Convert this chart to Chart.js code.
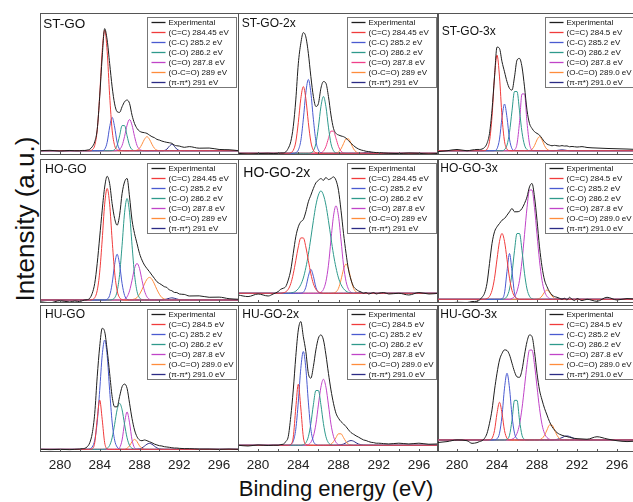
<!DOCTYPE html>
<html lang="en">

<head>
    <script src="https://cdn.jsdelivr.net/npm/chart.js"></script>
    <meta charset="UTF-8">
    <title>C1s XPS spectra</title>
    <style>
        body {
            margin: 0;
            background: #fff;
            font-family: "Liberation Sans", Arial, sans-serif;
        }

        #wrap {
            position: relative;
            width: 633px;
            height: 502px;
            overflow: hidden;
        }

        #wrap canvas {
            position: absolute;
        }

        .axisTitle {
            position: absolute;
            text-align: center;
            color: #111;
            white-space: nowrap;
        }

        #yTitle {
            width: 300px;
            height: 26px;
            left: -125px;
            top: 206px;
            font-size: 26px;
            line-height: 26px;
            transform: rotate(-90deg);
        }

        #xTitle {
            width: 400px;
            left: 136px;
            top: 478px;
            font-size: 22px;
            line-height: 22px;
        }
    </style>
</head>

<body>
    <div id="wrap">
        <div class="axisTitle" id="yTitle">Intensity (a.u.)</div>
        <div class="axisTitle" id="xTitle">Binding energy (eV)</div>
    </div>

    <script>
        // binding energy grid (eV), shared by every curve
        const energy = [278, 279, 280, 281, 281.5,
            282, 282.25, 282.5, 282.75, 283, 283.25, 283.5, 283.75,
            284, 284.25, 284.5, 284.75, 285, 285.25, 285.5, 285.75,
            286, 286.25, 286.5, 286.75, 287, 287.25, 287.5, 287.75,
            288, 288.25, 288.5, 288.75, 289, 289.25, 289.5, 289.75,
            290, 290.25, 290.5, 290.75, 291, 291.25, 291.5, 291.75,
            292, 292.5, 293, 294, 295, 296, 297, 298];
        const xTickLabels = [280, 284, 288, 292, 296];
        const xMinorTicks = [280, 282, 284, 286, 288, 290, 292, 294, 296];

        const labelsOld = ['Experimental', '(C=C) 284.45 eV', '(C-C) 285.2 eV', '(C-O) 286.2 eV', '(C=O) 287.8 eV', '(O-C=O) 289 eV', '(π-π*) 291 eV'];
        const labelsNew = ['Experimental', '(C=C) 284.5 eV', '(C-C) 285.2 eV', '(C-O) 286.2 eV', '(C=O) 287.8 eV', '(O-C=O) 289.0 eV', '(π-π*) 291.0 eV'];

        // ---- ST-GO ----
        const stGoExp = [0, 0.3, -0.2, 0.2, 0,
            0, 0.2, 0.2, 0.5, 1, 2.8, 6.3, 15,
            38, 66, 86, 78, 61.5, 45, 33, 27.5,
            27, 31, 34.5, 35.7, 33.3, 25, 19.2, 15.7,
            13.8, 13, 12.7, 12.2, 11, 9.9, 9.2, 8,
            7.5, 6.8, 6.3, 5.9, 5.6, 5.2, 4, 3.5,
            3.3, 2.4, 2.9, 1.8, 1.9, 0.9, 0.7, 0];
        const stGoCdc = [0, 0, 0, 0, 0,
            0, 0, 0, 0, 0, 0.7, 3.7, 14.5,
            39, 70, 85, 70, 39, 14.5, 3.7, 0.7,
            0, 0, 0, 0, 0, 0, 0, 0,
            0, 0, 0, 0, 0, 0, 0, 0,
            0, 0, 0, 0, 0, 0, 0, 0,
            0, 0, 0, 0, 0, 0, 0, 0];
        const stGoCsc = [0, 0, 0, 0, 0,
            0, 0, 0, 0, 0, 0, 0, 0,
            0, 0.1, 1, 5.9, 16.7, 23.5, 16.7, 5.9,
            1, 0.1, 0, 0, 0, 0, 0, 0,
            0, 0, 0, 0, 0, 0, 0, 0,
            0, 0, 0, 0, 0, 0, 0, 0,
            0, 0, 0, 0, 0, 0, 0, 0];
        const stGoCso = [0, 0, 0, 0, 0,
            0, 0, 0, 0, 0, 0, 0, 0,
            0, 0, 0, 0, 0, 0.1, 0.8, 3.8,
            10.5, 17.7, 17.7, 10.5, 3.8, 0.8, 0.1, 0,
            0, 0, 0, 0, 0, 0, 0, 0,
            0, 0, 0, 0, 0, 0, 0, 0,
            0, 0, 0, 0, 0, 0, 0, 0];
        const stGoCdo = [0, 0, 0, 0, 0,
            0, 0, 0, 0, 0, 0, 0, 0,
            0, 0, 0, 0, 0, 0, 0, 0.2,
            1, 3.7, 10.1, 18, 22, 18, 10.1, 3.7,
            1, 0.2, 0, 0, 0, 0, 0, 0,
            0, 0, 0, 0, 0, 0, 0, 0,
            0, 0, 0, 0, 0, 0, 0, 0];
        const stGoOcdo = [0, 0, 0, 0, 0,
            0, 0, 0, 0, 0, 0, 0, 0,
            0, 0, 0, 0, 0, 0, 0, 0,
            0, 0, 0, 0, 0, 0, 0, 0.4,
            1.7, 4.6, 8.1, 9.9, 8.1, 4.6, 1.7, 0.4,
            0, 0, 0, 0, 0, 0, 0, 0,
            0, 0, 0, 0, 0, 0, 0, 0];
        const stGoPi = [0, 0, 0, 0, 0,
            0, 0, 0, 0, 0, 0, 0, 0,
            0, 0, 0, 0, 0, 0, 0, 0,
            0, 0, 0, 0, 0, 0, 0, 0,
            0, 0, 0, 0, 0, 0, 0, 0,
            0, 0, 0.2, 1.1, 3.2, 4.5, 3.2, 1.1,
            0.2, 0, 0, 0, 0, 0, 0, 0];

        // ---- ST-GO-2x ----
        const st2Exp = [0, -0.5, -0.2, 0, -0.2,
            0, 0.2, 0.2, 1, 3.5, 8.2, 18.8, 37.6,
            63, 77.5, 85, 82, 70.4, 54, 40, 33,
            35, 45.8, 50.5, 49.3, 40, 27, 17.6, 14,
            12.9, 12.2, 11.7, 10.6, 8.9, 7, 5.4, 4,
            3, 2.3, 1.9, 1.4, 1.2, 0.9, 0.7, 0.5,
            0.5, 0.2, 0, -0.2, 0.2, 0, -0.5, 0];
        const st2Cdc = [0, 0, 0, 0, 0,
            0, 0, 0, 0, 0, 0.4, 2.1, 8,
            21.6, 38.5, 47, 38.5, 21.6, 8, 2.1, 0.4,
            0, 0, 0, 0, 0, 0, 0, 0,
            0, 0, 0, 0, 0, 0, 0, 0,
            0, 0, 0, 0, 0, 0, 0, 0,
            0, 0, 0, 0, 0, 0, 0, 0];
        const st2Csc = [0, 0, 0, 0, 0,
            0, 0, 0, 0, 0, 0, 0, 0.4,
            2.3, 8.8, 24, 42.6, 52, 42.6, 24, 8.8,
            2.3, 0.4, 0, 0, 0, 0, 0, 0,
            0, 0, 0, 0, 0, 0, 0, 0,
            0, 0, 0, 0, 0, 0, 0, 0,
            0, 0, 0, 0, 0, 0, 0, 0];
        const st2Cso = [0, 0, 0, 0, 0,
            0, 0, 0, 0, 0, 0, 0, 0,
            0, 0, 0, 0, 0, 0.3, 1.8, 6.8,
            18.4, 32.8, 40, 32.8, 18.4, 6.8, 1.8, 0.3,
            0, 0, 0, 0, 0, 0, 0, 0,
            0, 0, 0, 0, 0, 0, 0, 0,
            0, 0, 0, 0, 0, 0, 0, 0];
        const st2Cdo = [0, 0, 0, 0, 0,
            0, 0, 0, 0, 0, 0, 0, 0,
            0, 0, 0, 0, 0, 0, 0, 0,
            0, 0.3, 1.5, 4.8, 10.5, 15.6, 15.6, 10.5,
            4.8, 1.5, 0.3, 0, 0, 0, 0, 0,
            0, 0, 0, 0, 0, 0, 0, 0,
            0, 0, 0, 0, 0, 0, 0, 0];
        const st2Ocdo = [0, 0, 0, 0, 0,
            0, 0, 0, 0, 0, 0, 0, 0,
            0, 0, 0, 0, 0, 0, 0, 0,
            0, 0, 0, 0, 0, 0, 0, 0.2,
            1, 3.1, 6.8, 10.1, 10.1, 6.8, 3.1, 1,
            0.2, 0, 0, 0, 0, 0, 0, 0,
            0, 0, 0, 0, 0, 0, 0, 0];
        const st2Pi = [0, 0, 0, 0, 0,
            0, 0, 0, 0, 0, 0, 0, 0,
            0, 0, 0, 0, 0, 0, 0, 0,
            0, 0, 0, 0, 0, 0, 0, 0,
            0, 0, 0, 0, 0, 0, 0, 0,
            0, 0, 0.4, 0.65, 0.8, 0.65, 0.4, 0,
            0, 0, 0, 0, 0, 0, 0, 0];

        // ---- ST-GO-3x ----
        const st3Exp = [-0.7, 0, 0.9, 0, 0.5,
            0.9, 0.9, 1.2, 2.3, 5.2, 12.2, 28.6, 52,
            73, 72, 62.7, 55.6, 48.6, 43.9, 42.7, 52,
            63.8, 65, 59, 45, 28.6, 19.2, 15.7, 13.4,
            12.2, 11, 8.7, 6.3, 4.7, 4, 3.5, 3.8,
            3.5, 3.3, 3.6, 3.3, 3.4, 2.8, 3, 2.8,
            2.6, 2.9, 2.3, 1.9, 1.6, 1.4, 1.2, 0.9];
        const st3Cdc = [0, 0, 0, 0, 0,
            0, 0, 0, 0.1, 1.1, 6.7, 24, 52,
            67.4, 52, 24, 6.7, 1.1, 0.1, 0, 0,
            0, 0, 0, 0, 0, 0, 0, 0,
            0, 0, 0, 0, 0, 0, 0, 0,
            0, 0, 0, 0, 0, 0, 0, 0,
            0, 0, 0, 0, 0, 0, 0, 0];
        const st3Csc = [0, 0, 0, 0, 0,
            0, 0, 0, 0, 0, 0, 0, 0.1,
            1.4, 8.2, 23.4, 32.9, 23.4, 8.2, 1.4, 0.1,
            0, 0, 0, 0, 0, 0, 0, 0,
            0, 0, 0, 0, 0, 0, 0, 0,
            0, 0, 0, 0, 0, 0, 0, 0,
            0, 0, 0, 0, 0, 0, 0, 0];
        const st3Cso = [0, 0, 0, 0, 0,
            0, 0, 0, 0, 0, 0, 0, 0,
            0, 0, 0, 0.8, 4, 13, 28.1, 41.7,
            41.7, 28.1, 13, 4, 0.8, 0, 0, 0,
            0, 0, 0, 0, 0, 0, 0, 0,
            0, 0, 0, 0, 0, 0, 0, 0,
            0, 0, 0, 0, 0, 0, 0, 0];
        const st3Cdo = [0, 0, 0, 0, 0,
            0, 0, 0, 0, 0, 0, 0, 0,
            0, 0, 0, 0, 0, 0, 0, 0.6,
            4.8, 20, 40, 40, 20, 4.8, 0.6, 0,
            0, 0, 0, 0, 0, 0, 0, 0,
            0, 0, 0, 0, 0, 0, 0, 0,
            0, 0, 0, 0, 0, 0, 0, 0];
        const st3Ocdo = [0, 0, 0, 0, 0,
            0, 0, 0, 0, 0, 0, 0, 0,
            0, 0, 0, 0, 0, 0, 0, 0,
            0, 0, 0, 0, 0, 0.2, 1, 3.6,
            7.7, 9.9, 7.7, 3.6, 1, 0.2, 0, 0,
            0, 0, 0, 0, 0, 0, 0, 0,
            0, 0, 0, 0, 0, 0, 0, 0];
        const st3Pi = [0, 0, 0, 0, 0,
            0, 0, 0, 0, 0, 0, 0, 0,
            0, 0, 0, 0, 0, 0, 0, 0,
            0, 0, 0, 0, 0, 0, 0, 0,
            0, 0, 0, 0, 0, 0, 0, 0,
            0.2, 0.45, 0.6, 0.45, 0.2, 0, 0, 0,
            0, 0, 0, 0, 0, 0, 0, 0];

        // ---- HO-GO ----
        const hoExp = [-1.2, -1.9, -0.5, -1.4, -0.7,
            -1.2, -0.5, 0, 0.2, 1.2, 4.7, 11.6, 25.6,
            44, 62.8, 79, 86.5, 81.4, 67.4, 57, 52.3,
            59.3, 74.4, 82.6, 85, 72, 55.8, 46.5, 39.5,
            32.6, 27.9, 24.4, 22, 19.8, 17.4, 15.1, 12.8,
            11.6, 10.5, 9.3, 8.8, 7, 6.5, 5.3, 5.2,
            4.2, 3.9, 2.8, 2.9, 1.9, 2, 0.9, 0.5];
        const hoCdc = [0, 0, 0, 0, 0,
            0, 0, 0, 0, 0, 0.3, 1.6, 6.6,
            19.5, 42, 67, 78, 67, 42, 19.5, 6.6,
            1.6, 0.3, 0, 0, 0, 0, 0, 0,
            0, 0, 0, 0, 0, 0, 0, 0,
            0, 0, 0, 0, 0, 0, 0, 0,
            0, 0, 0, 0, 0, 0, 0, 0];
        const hoCsc = [0, 0, 0, 0, 0,
            0, 0, 0, 0, 0, 0, 0, 0,
            0, 0, 0, 0.5, 3.2, 11.5, 24.8, 32,
            24.8, 11.5, 3.2, 0.5, 0, 0, 0, 0,
            0, 0, 0, 0, 0, 0, 0, 0,
            0, 0, 0, 0, 0, 0, 0, 0,
            0, 0, 0, 0, 0, 0, 0, 0];
        const hoCso = [0, 0, 0, 0, 0,
            0, 0, 0, 0, 0, 0, 0, 0,
            0, 0, 0, 0, 0, 0.3, 1.5, 6,
            17.8, 38.3, 61, 71, 61, 38.3, 17.8, 6,
            1.5, 0.3, 0, 0, 0, 0, 0, 0,
            0, 0, 0, 0, 0, 0, 0, 0,
            0, 0, 0, 0, 0, 0, 0, 0];
        const hoCdo = [0, 0, 0, 0, 0,
            0, 0, 0, 0, 0, 0, 0, 0,
            0, 0, 0, 0, 0, 0, 0, 0,
            0, 0.1, 0.5, 2.2, 6.4, 13.8, 22, 25.6,
            22, 13.8, 6.4, 2.2, 0.5, 0.1, 0, 0,
            0, 0, 0, 0, 0, 0, 0, 0,
            0, 0, 0, 0, 0, 0, 0, 0];
        const hoOcdo = [0, 0, 0, 0, 0,
            0, 0, 0, 0, 0, 0, 0, 0,
            0, 0, 0, 0, 0, 0, 0, 0,
            0, 0, 0, 0, 0, 0.2, 0.7, 1.7,
            4, 7.3, 11.2, 14.5, 15.8, 14.5, 11.2, 7.3,
            4, 1.7, 0.7, 0.2, 0, 0, 0, 0,
            0, 0, 0, 0, 0, 0, 0, 0];
        const hoPi = [0, 0, 0, 0, 0,
            0, 0, 0, 0, 0, 0, 0, 0,
            0, 0, 0, 0, 0, 0, 0, 0,
            0, 0, 0, 0, 0, 0, 0, 0,
            0, 0, 0, 0, 0, 0, 0, 0,
            0, 0, 0.25, 0.7, 1.2, 1.5, 1.2, 0.7,
            0.25, 0, 0, 0, 0, 0, 0, 0];

        // ---- HO-GO-2x ----
        const ho2Exp = [-1.2, -2.3, -0.5, -1.9, -0.5,
            1.2, 2.8, 3.5, 4.7, 9.3, 16.3, 28, 39.5,
            46.5, 50, 51.6, 57, 64, 68.6, 73.3, 77.2,
            79, 80.2, 79, 81, 79.5, 80.2, 81.4, 79,
            72, 58, 41.9, 28, 16.3, 9.3, 4.7, 2.8,
            1.6, 0.9, 0, 0.5, -0.5, 0, 0.5, -0.5,
            0, 0.5, -0.5, 0, -1.2, 0.5, -0.5, 0];
        const ho2Cdc = [0, 0, 0, 0, 0,
            0, 0, 0.3, 1, 2.8, 6.7, 13.6, 22.9,
            32.4, 38.7, 38.7, 32.4, 22.9, 13.6, 6.7, 2.8,
            1, 0.3, 0, 0, 0, 0, 0, 0,
            0, 0, 0, 0, 0, 0, 0, 0,
            0, 0, 0, 0, 0, 0, 0, 0,
            0, 0, 0, 0, 0, 0, 0, 0];
        const ho2Csc = [0, 0, 0, 0, 0,
            0, 0, 0, 0, 0, 0, 0, 0,
            0, 0.1, 0.7, 4.2, 11.9, 16.7, 11.9, 4.2,
            0.7, 0.1, 0, 0, 0, 0, 0, 0,
            0, 0, 0, 0, 0, 0, 0, 0,
            0, 0, 0, 0, 0, 0, 0, 0,
            0, 0, 0, 0, 0, 0, 0, 0];
        const ho2Cso = [0, 0, 0, 0, 0,
            0, 0, 0, 0, 0, 0.2, 0.6, 1.5,
            3.2, 6.1, 10.7, 17.9, 27.2, 38.7, 50.8, 61.6,
            68.7, 71.6, 68.7, 61.6, 50.8, 38.7, 27.2, 17.9,
            10.7, 6.1, 3.2, 1.5, 0.6, 0.2, 0, 0,
            0, 0, 0, 0, 0, 0, 0, 0,
            0, 0, 0, 0, 0, 0, 0, 0];
        const ho2Cdo = [0, 0, 0, 0, 0,
            0, 0, 0, 0, 0, 0, 0, 0,
            0, 0, 0, 0, 0, 0, 0, 0,
            0, 0.7, 2.7, 8.3, 19.6, 37.3, 53.9, 61.2,
            53.9, 37.3, 19.6, 8.3, 2.7, 0.7, 0, 0,
            0, 0, 0, 0, 0, 0, 0, 0,
            0, 0, 0, 0, 0, 0, 0, 0];
        const ho2Ocdo = [0, 0, 0, 0, 0,
            0, 0, 0, 0, 0, 0, 0, 0,
            0, 0, 0, 0, 0, 0, 0, 0,
            0, 0, 0, 0, 0, 0, 0.2, 0.9,
            3.5, 9.4, 16.8, 20.5, 16.8, 9.4, 3.5, 0.9,
            0.2, 0, 0, 0, 0, 0, 0, 0,
            0, 0, 0, 0, 0, 0, 0, 0];
        const ho2Pi = [0, 0, 0, 0, 0,
            0, 0, 0, 0, 0, 0, 0, 0,
            0, 0, 0, 0, 0, 0, 0, 0,
            0, 0, 0, 0, 0, 0, 0, 0,
            0, 0, 0, 0, 0, 0, 0, 0.3,
            0.5, 0.3, 0, 0, 0, 0, 0, 0,
            0, 0, 0, 0, 0, 0, 0, 0];

        // ---- HO-GO-3x ----
        const ho3Exp = [-2.3, -2.8, -2.1, -2.3, -1.6,
            -1.4, -0.5, 1.4, 4.2, 11.2, 25, 39, 47.2,
            50.7, 53, 55.3, 56.5, 58.8, 61.2, 63.5, 61.2,
            61.2, 61.6, 63.5, 67, 71.6, 78.6, 81, 71.6,
            55.3, 36.7, 22.8, 13.5, 8.8, 5.3, 3, 1.9,
            1.4, 0.7, 0, 0.7, -0.5, 1.4, 0, -0.9,
            0.5, -0.9, 0, -1.4, 1.4, -0.5, 0.5, 0];
        const ho3Cdc = [0, 0, 0, 0, 0,
            0, 0, 0, 0, 0.5, 2, 6.2, 14.7,
            28, 40.5, 46, 40.5, 28, 14.7, 6.2, 2,
            0.5, 0, 0, 0, 0, 0, 0, 0,
            0, 0, 0, 0, 0, 0, 0, 0,
            0, 0, 0, 0, 0, 0, 0, 0,
            0, 0, 0, 0, 0, 0, 0, 0];
        const ho3Csc = [0, 0, 0, 0, 0,
            0, 0, 0, 0, 0, 0, 0, 0,
            0, 0, 0.4, 4.3, 19.5, 32, 19.5, 4.3,
            0.4, 0, 0, 0, 0, 0, 0, 0,
            0, 0, 0, 0, 0, 0, 0, 0,
            0, 0, 0, 0, 0, 0, 0, 0,
            0, 0, 0, 0, 0, 0, 0, 0];
        const ho3Cso = [0, 0, 0, 0, 0,
            0, 0, 0, 0, 0, 0, 0, 0,
            0, 0, 0, 0.4, 2.1, 7.2, 18.2, 34,
            46, 46, 34, 18.2, 7.2, 2.1, 0.4, 0,
            0, 0, 0, 0, 0, 0, 0, 0,
            0, 0, 0, 0, 0, 0, 0, 0,
            0, 0, 0, 0, 0, 0, 0, 0];
        const ho3Cdo = [0, 0, 0, 0, 0,
            0, 0, 0, 0, 0, 0, 0, 0,
            0, 0, 0, 0, 0, 0, 0.6, 2,
            5.6, 13.3, 26.9, 45.2, 64, 76.4, 76.4, 64,
            45.2, 26.9, 13.3, 5.6, 2, 0.6, 0, 0,
            0, 0, 0, 0, 0, 0, 0, 0,
            0, 0, 0, 0, 0, 0, 0, 0];
        const ho3Ocdo = [0, 0, 0, 0, 0,
            0, 0, 0, 0, 0, 0, 0, 0,
            0, 0, 0, 0, 0, 0, 0, 0,
            0, 0, 0, 0, 0, 0, 0, 0,
            0.1, 0.65, 2.3, 5, 6.5, 5, 2.3, 0.65,
            0.1, 0, 0, 0, 0, 0, 0, 0,
            0, 0, 0, 0, 0, 0, 0, 0];
        const ho3Pi = [0, 0, 0, 0, 0,
            0, 0, 0, 0, 0, 0, 0, 0,
            0, 0, 0, 0, 0, 0, 0, 0,
            0, 0, 0, 0, 0, 0, 0, 0,
            0, 0, 0, 0, 0, 0, 0, 0,
            0.2, 0.4, 0.5, 0.4, 0.2, 0, 0, 0,
            0, 0, 0, 0, 0, 0, 0, 0];

        // ---- HU-GO ----
        const huExp = [0, -0.2, 0, -0.2, 0,
            0.2, 0.5, 0.7, 1.8, 4.5, 10.9, 24.5, 49.5,
            70, 82.5, 80.2, 67.7, 51.8, 36, 29, 29,
            36, 42.7, 44.5, 41.6, 31.4, 21, 13.2, 8.6,
            6.4, 5.9, 6.4, 5.9, 5.2, 4.5, 3.6, 3,
            2.5, 2.3, 1.8, 1.6, 1.4, 1.1, 0.9, 0.9,
            0.7, 0.5, 0.5, 0.2, 0.2, 0, 0.2, 0];
        const huCdc = [0, 0, 0, 0, 0,
            0, 0, 0, 0, 0, 0.4, 4.5, 20.5,
            33.6, 20.5, 4.5, 0.4, 0, 0, 0, 0,
            0, 0, 0, 0, 0, 0, 0, 0,
            0, 0, 0, 0, 0, 0, 0, 0,
            0, 0, 0, 0, 0, 0, 0, 0,
            0, 0, 0, 0, 0, 0, 0, 0];
        const huCsc = [0, 0, 0, 0, 0,
            0, 0, 0, 0, 0.3, 1.6, 6.3, 18.6,
            40.2, 64, 74.5, 64, 40.2, 18.6, 6.3, 1.6,
            0.3, 0, 0, 0, 0, 0, 0, 0,
            0, 0, 0, 0, 0, 0, 0, 0,
            0, 0, 0, 0, 0, 0, 0, 0,
            0, 0, 0, 0, 0, 0, 0, 0];
        const huCso = [0, 0, 0, 0, 0,
            0, 0, 0, 0, 0, 0, 0, 0,
            0, 0, 0.1, 0.7, 2.7, 7.9, 17, 27,
            31.4, 27, 17, 7.9, 2.7, 0.7, 0.1, 0,
            0, 0, 0, 0, 0, 0, 0, 0,
            0, 0, 0, 0, 0, 0, 0, 0,
            0, 0, 0, 0, 0, 0, 0, 0];
        const huCdo = [0, 0, 0, 0, 0,
            0, 0, 0, 0, 0, 0, 0, 0,
            0, 0, 0, 0, 0, 0, 0, 0.1,
            1.1, 6.4, 18.1, 25.5, 18.1, 6.4, 1.1, 0.1,
            0, 0, 0, 0, 0, 0, 0, 0,
            0, 0, 0, 0, 0, 0, 0, 0,
            0, 0, 0, 0, 0, 0, 0, 0];
        const huOcdo = [0, 0, 0, 0, 0,
            0, 0, 0, 0, 0, 0, 0, 0,
            0, 0, 0, 0, 0, 0, 0, 0,
            0, 0, 0.1, 0.7, 2.4, 5.3, 6.8, 5.3,
            2.4, 0.7, 0.1, 0, 0, 0, 0, 0,
            0, 0, 0, 0, 0, 0, 0, 0,
            0, 0, 0, 0, 0, 0, 0, 0];
        const huPi = [0, 0, 0, 0, 0,
            0, 0, 0, 0, 0, 0, 0, 0,
            0, 0, 0, 0, 0, 0, 0, 0,
            0, 0, 0, 0, 0, 0, 0, 0.1,
            0.35, 1, 2.2, 3.5, 4.1, 3.5, 2.2, 1,
            0.35, 0.1, 0, 0, 0, 0, 0, 0,
            0, 0, 0, 0, 0, 0, 0, 0];

        // ---- HU-GO-2x ----
        const hu2Exp = [0, -0.5, 0.2, -0.2, 0,
            0, 0.5, 0.7, 2.5, 5.9, 19.5, 37.7, 60.5,
            78.6, 84.3, 74, 63.9, 49, 45.7, 53.6, 65,
            73, 75.2, 71.8, 61.6, 49, 37.7, 28.6, 21.8,
            18.4, 16.1, 14.5, 12.7, 10.5, 8.6, 7.5, 6.4,
            5.5, 4.5, 3.6, 3.2, 2.5, 2, 1.8, 1.4,
            1.4, 1.1, 0.9, 1.4, 0.9, 1.4, 0.7, 0.9];
        const hu2Cdc = [0, 0, 0, 0, 0,
            0, 0, 0, 0, 0, 0.5, 5.6, 25.4,
            41.6, 25.4, 5.6, 0.5, 0, 0, 0, 0,
            0, 0, 0, 0, 0, 0, 0, 0,
            0, 0, 0, 0, 0, 0, 0, 0,
            0, 0, 0, 0, 0, 0, 0, 0,
            0, 0, 0, 0, 0, 0, 0, 0];
        const hu2Csc = [0, 0, 0, 0, 0,
            0, 0, 0, 0, 0, 0.5, 2.8, 10.9,
            29.4, 52.4, 63.9, 52.4, 29.4, 10.9, 2.8, 0.5,
            0, 0, 0, 0, 0, 0, 0, 0,
            0, 0, 0, 0, 0, 0, 0, 0,
            0, 0, 0, 0, 0, 0, 0, 0,
            0, 0, 0, 0, 0, 0, 0, 0];
        const hu2Cso = [0, 0, 0, 0, 0,
            0, 0, 0, 0, 0, 0, 0, 0,
            0, 0, 0.35, 1.7, 5.8, 14.8, 27.6, 37.3,
            37.3, 27.6, 14.8, 5.8, 1.7, 0.35, 0, 0,
            0, 0, 0, 0, 0, 0, 0, 0,
            0, 0, 0, 0, 0, 0, 0, 0,
            0, 0, 0, 0, 0, 0, 0, 0];
        const hu2Cdo = [0, 0, 0, 0, 0,
            0, 0, 0, 0, 0, 0, 0, 0,
            0, 0, 0, 0, 0.5, 2, 6.1, 14.4,
            27.5, 39.6, 45, 39.6, 27.5, 14.4, 6.1, 2,
            0.5, 0, 0, 0, 0, 0, 0, 0,
            0, 0, 0, 0, 0, 0, 0, 0,
            0, 0, 0, 0, 0, 0, 0, 0];
        const hu2Ocdo = [0, 0, 0, 0, 0,
            0, 0, 0, 0, 0, 0, 0, 0,
            0, 0, 0, 0, 0, 0, 0, 0,
            0, 0, 0, 0, 0.15, 0.7, 2.4, 5.2,
            7.8, 7.8, 5.2, 2.4, 0.7, 0.15, 0, 0,
            0, 0, 0, 0, 0, 0, 0, 0,
            0, 0, 0, 0, 0, 0, 0, 0];
        const hu2Pi = [0, 0, 0, 0, 0,
            0, 0, 0, 0, 0, 0, 0, 0,
            0, 0, 0, 0, 0, 0, 0, 0,
            0, 0, 0, 0, 0, 0, 0, 0,
            0.1, 0.3, 0.8, 1.7, 2.75, 3.2, 2.75, 1.7,
            0.8, 0.3, 0.1, 0, 0, 0, 0, 0,
            0, 0, 0, 0, 0, 0, 0, 0];

        // ---- HU-GO-3x ----
        const hu3Exp = [-1.8, -1.1, 0, -0.5, -2.3,
            -1.8, -1.1, -0.5, 1.1, 4.5, 11.4, 20.5, 34,
            45.5, 54.5, 59, 61.4, 61, 58, 52.3, 46.6,
            43, 42.7, 47.7, 58, 67, 71.6, 70.5, 60.2,
            45.5, 34, 27.3, 21.6, 17, 12.5, 9.1, 6.8,
            5, 3.9, 3.2, 2.7, 2.3, 1.8, 1.4, 1.1,
            0.9, 0.7, 0.5, 2.2, 0.7, -0.5, -1.1, -0.7];
        const hu3Cdc = [0, 0, 0, 0, 0,
            0, 0, 0, 0, 0, 0.1, 1.1, 6.4,
            18.2, 25.7, 18.2, 6.4, 1.1, 0.1, 0, 0,
            0, 0, 0, 0, 0, 0, 0, 0,
            0, 0, 0, 0, 0, 0, 0, 0,
            0, 0, 0, 0, 0, 0, 0, 0,
            0, 0, 0, 0, 0, 0, 0, 0];
        const hu3Csc = [0, 0, 0, 0, 0,
            0, 0, 0, 0, 0, 0, 0, 0.1,
            0.8, 4.6, 16.4, 35.3, 45.5, 35.3, 16.4, 4.6,
            0.8, 0.1, 0, 0, 0, 0, 0, 0,
            0, 0, 0, 0, 0, 0, 0, 0,
            0, 0, 0, 0, 0, 0, 0, 0,
            0, 0, 0, 0, 0, 0, 0, 0];
        const hu3Cso = [0, 0, 0, 0, 0,
            0, 0, 0, 0, 0, 0, 0, 0,
            0, 0, 0, 0, 0.4, 3.2, 13.5, 27,
            27, 13.5, 3.2, 0.4, 0, 0, 0, 0,
            0, 0, 0, 0, 0, 0, 0, 0,
            0, 0, 0, 0, 0, 0, 0, 0,
            0, 0, 0, 0, 0, 0, 0, 0];
        const hu3Cdo = [0, 0, 0, 0, 0,
            0, 0, 0, 0, 0, 0, 0, 0,
            0, 0, 0, 0, 0, 0, 0.5, 1.6,
            4.5, 10.6, 21.6, 36.3, 51.3, 61.3, 61.3, 51.3,
            36.3, 21.6, 10.6, 4.5, 1.6, 0.5, 0, 0,
            0, 0, 0, 0, 0, 0, 0, 0,
            0, 0, 0, 0, 0, 0, 0, 0];
        const hu3Ocdo = [0, 0, 0, 0, 0,
            0, 0, 0, 0, 0, 0, 0, 0,
            0, 0, 0, 0, 0, 0, 0, 0,
            0, 0, 0, 0, 0, 0, 0, 0,
            0, 0.2, 1, 3.2, 6.8, 10.2, 10.2, 6.8,
            3.2, 1, 0.2, 0, 0, 0, 0, 0,
            0, 0, 0, 0, 0, 0, 0, 0];
        const hu3Pi = [0, 0, 0, 0, 0,
            0, 0, 0, 0, 0, 0, 0, 0,
            0, 0, 0, 0, 0, 0, 0, 0,
            0, 0, 0, 0, 0, 0, 0, 0,
            0, 0, 0, 0, 0, 0, 0, 0.1,
            0.4, 0.9, 1.6, 2.4, 2.7, 2.4, 1.6, 0.9,
            0.4, 0, 0, 0, 0, 0, 0, 0];

        const seriesColors = ['#1e1e1e', '#f03c3c', '#4a5ad0', '#2e9a8c', '#c044c8', '#ff8c3c', '#2b2b85'];

        // grid geometry of the 3x3 figure
        const cols = [{ left: 40, width: 199 }, { left: 238, width: 201 }, { left: 437, width: 200 }];
        const rows = [{ top: 13, height: 142 }, { top: 159, height: 144 }, { top: 305, height: 147 }];
        const axisSpace = 40;

        const panels = [
            { title: 'ST-GO', col: 0, row: 0, y: [-3, 97], labels: labelsOld, t: [3.3, 11, 13.5], series: [stGoExp, stGoCdc, stGoCsc, stGoCso, stGoCdo, stGoOcdo, stGoPi] },
            { title: 'ST-GO-2x', col: 1, row: 0, y: [-1.2, 98.8], labels: labelsOld, t: [3.7, 11, 12], cdo: '#f0408a', series: [st2Exp, st2Cdc, st2Csc, st2Cso, st2Cdo, st2Ocdo, st2Pi] },
            { title: 'ST-GO-3x', col: 2, row: 0, y: [-3, 97], labels: labelsNew, t: [4.7, 18.7, 12], series: [st3Exp, st3Cdc, st3Csc, st3Cso, st3Cdo, st3Ocdo, st3Pi] },
            { title: 'HO-GO', col: 0, row: 1, y: [-2.1, 98.6], labels: labelsOld, t: [5, 11, 12.3], series: [hoExp, hoCdc, hoCsc, hoCso, hoCdo, hoOcdo, hoPi] },
            { title: 'HO-GO-2x', col: 1, row: 1, y: [-6.8, 93.9], labels: labelsOld, t: [5.3, 14.3, 14], series: [ho2Exp, ho2Cdc, ho2Csc, ho2Cso, ho2Cdo, ho2Ocdo, ho2Pi] },
            { title: 'HO-GO-3x', col: 2, row: 1, y: [-2.6, 98.1], labels: labelsNew, t: [3.3, 9.3, 12], series: [ho3Exp, ho3Cdc, ho3Csc, ho3Cso, ho3Cdo, ho3Ocdo, ho3Pi] },
            { title: 'HU-GO', col: 0, row: 2, y: [-1.8, 98.4], labels: labelsNew, t: [5, 10, 12], series: [huExp, huCdc, huCsc, huCso, huCdo, huOcdo, huPi] },
            { title: 'HU-GO-2x', col: 1, row: 2, y: [-4.6, 95.6], labels: labelsNew, t: [4.3, 10, 12], series: [hu2Exp, hu2Cdc, hu2Csc, hu2Cso, hu2Cdo, hu2Ocdo, hu2Pi] },
            { title: 'HU-GO-3x', col: 2, row: 2, y: [-8.2, 92], labels: labelsNew, t: [3.3, 10, 12], series: [hu3Exp, hu3Cdc, hu3Csc, hu3Cso, hu3Cdo, hu3Ocdo, hu3Pi] }
        ];

        const FONT = '"Liberation Sans", Arial, sans-serif';
        Chart.defaults.font.family = FONT;

        // frame, inner ticks, panel name and boxed legend
        const panelDecor = {
            id: 'panelDecor',
            afterDatasetsDraw(chart, args, o) {
                const ctx = chart.ctx;
                const a = chart.chartArea;
                const xs = chart.scales.x;
                ctx.save();
                ctx.strokeStyle = '#555';
                ctx.lineWidth = 1;
                ctx.beginPath();
                xMinorTicks.forEach(v => {
                    const px = Math.round(xs.getPixelForValue(v)) + 0.5;
                    ctx.moveTo(px, a.bottom);
                    ctx.lineTo(px, a.bottom - 3);
                });
                ctx.stroke();
                ctx.strokeRect(a.left + 0.5, a.top + 0.5, a.right - a.left - 1, a.bottom - a.top - 1);

                ctx.fillStyle = '#111';
                ctx.textAlign = 'left';
                ctx.textBaseline = 'middle';
                ctx.font = o.titleSize + 'px ' + FONT;
                ctx.fillText(o.title, a.left + o.titleX, a.top + o.titleY);

                const bw = 89, bh = 70;
                const bx = Math.round(a.right - 3 - bw) + 0.5;
                const by = Math.round(a.top + 4) + 0.5;
                ctx.fillStyle = '#fff';
                ctx.fillRect(bx, by, bw, bh);
                ctx.strokeStyle = '#777';
                ctx.strokeRect(bx, by, bw, bh);
                ctx.font = '8px ' + FONT;
                chart.data.datasets.forEach((ds, i) => {
                    const cy = by + 5 + i * 10;
                    ctx.strokeStyle = ds.borderColor;
                    ctx.lineWidth = 1.3;
                    ctx.beginPath();
                    ctx.moveTo(bx + 4, cy);
                    ctx.lineTo(bx + 18, cy);
                    ctx.stroke();
                    ctx.fillStyle = '#111';
                    ctx.fillText(ds.label, bx + 21, cy + 0.5);
                });
                ctx.restore();
            }
        };

        function createPanel(p) {
            const bottomRow = p.row === 2;
            const w = cols[p.col].width;
            const h = rows[p.row].height + (bottomRow ? axisSpace : 0);
            const canvas = document.createElement('canvas');
            canvas.width = w;
            canvas.height = h;
            canvas.style.width = w + 'px';
            canvas.style.height = h + 'px';
            canvas.style.left = cols[p.col].left + 'px';
            canvas.style.top = rows[p.row].top + 'px';
            document.getElementById('wrap').appendChild(canvas);

            const datasets = p.series.map((vals, i) => ({
                label: p.labels[i],
                data: energy.map((e, j) => ({ x: e, y: vals[j] })),
                borderColor: (i === 4 && p.cdo) ? p.cdo : seriesColors[i],
                borderWidth: 1
            }));

            return new Chart(canvas, {
                type: 'line',
                data: { datasets: datasets },
                plugins: [panelDecor],
                options: {
                    responsive: false,
                    maintainAspectRatio: false,
                    animation: false,
                    devicePixelRatio: 1,
                    layout: { padding: 0 },
                    elements: {
                        point: { radius: 0 },
                        line: { cubicInterpolationMode: 'monotone' }
                    },
                    scales: {
                        x: {
                            type: 'linear',
                            min: 278,
                            max: 298,
                            display: bottomRow,
                            grid: { display: false, drawTicks: false },
                            border: { display: false },
                            ticks: { color: '#222', padding: 5, maxRotation: 0, autoSkip: false, font: { size: 13.5 } },
                            afterBuildTicks: scale => { scale.ticks = xTickLabels.map(v => ({ value: v })); },
                            afterFit: scale => { scale.height = bottomRow ? axisSpace : 0; }
                        },
                        y: { display: false, min: p.y[0], max: p.y[1] }
                    },
                    plugins: {
                        legend: { display: false },
                        tooltip: { enabled: false },
                        panelDecor: { title: p.title, titleSize: p.t[2], titleX: p.t[0], titleY: p.t[1] }
                    }
                }
            });
        }

        panels.forEach(createPanel);
    </script>
</body>

</html>
